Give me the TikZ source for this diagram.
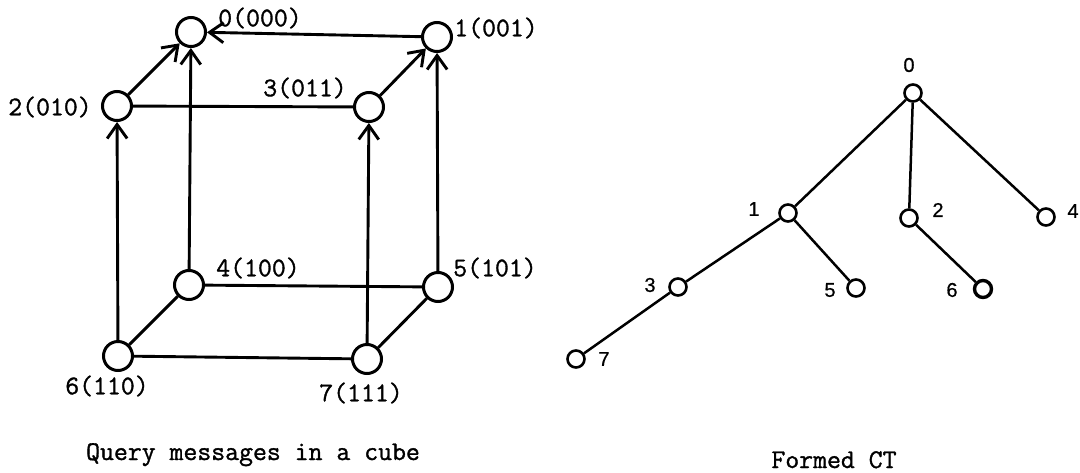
\documentclass[tikz,border=0pt]{standalone}
\usepackage{fontspec}
\newfontfamily\treefont{Liberation Sans}[FakeBold=0.6]
\newfontfamily\typew{Latin Modern Mono}[FakeBold=1.2]
\usetikzlibrary{arrows.meta}
\begin{document}
\begin{tikzpicture}[x=1pt,y=-1pt,
  cnode/.style={circle,draw,line width=3pt,minimum size=29pt,inner sep=0pt},
  tnode/.style={circle,draw,line width=2.6pt,minimum size=17pt,inner sep=0pt},
  cedge/.style={line width=2.9pt},
  carrow/.style={cedge,-{Straight Barb[length=14pt,width=20pt,line width=2.9pt]}},
  tedge/.style={line width=2.5pt},
  clabel/.style={font=\fontsize{27}{30}\selectfont\typew,inner sep=0pt},
  tlabel/.style={font=\fontsize{20}{22}\selectfont\treefont,inner sep=0pt},
  capt/.style={font=\fontsize{27}{30}\selectfont\typew,inner sep=0pt,anchor=base}]
\useasboundingbox (0,0) rectangle (1080,472);
% cube nodes
\node[cnode] (c0) at (191,32) {};
\node[cnode] (c1) at (437,37) {};
\node[cnode] (c2) at (117,106) {};
\node[cnode] (c3) at (369,107) {};
\node[cnode] (c4) at (189,285) {};
\node[cnode] (c5) at (438,287) {};
\node[cnode] (c6) at (118,356) {};
\node[cnode] (c7) at (367,359) {};
% cube labels
\node[clabel] (l0) at (260,18) {0(000)};
\node[clabel] (l1) at (496,28) {1(001)};
\node[clabel] (l2) at (50,107) {2(010)};
\node[clabel] (l3) at (305,88) {3(011)};
\node[clabel] (l4) at (258,268) {4(100)};
\node[clabel] (l5) at (495,268) {5(101)};
\node[clabel] (l6) at (107,386) {6(110)};
\node[clabel] (l7) at (361,393) {7(111)};
% cube edges
\draw[carrow] (c1) -- (c0);
\draw[carrow] (c2) -- (c0);
\draw[carrow] (c4) -- (c0);
\draw[carrow] (c3) -- (c1);
\draw[carrow] (c5) -- (c1);
\draw[carrow] (c6) -- (c2);
\draw[carrow] (c7) -- (c3);
\draw[cedge] (c2) -- (c3);
\draw[cedge] (c4) -- (c5);
\draw[cedge] (c4) -- (c6);
\draw[cedge] (c5) -- (c7);
\draw[cedge] (c6) -- (c7);
% tree nodes
\node[tnode] (t0) at (913,93) {};
\node[tnode] (t1) at (788,213) {};
\node[tnode] (t2) at (909,218) {};
\node[tnode] (t4) at (1046,217) {};
\node[tnode] (t3) at (678,287) {};
\node[tnode] (t5) at (856,288) {};
\node[tnode,line width=3.4pt] (t6) at (983,289) {};
\node[tnode] (t7) at (576,359) {};
% tree labels
\node[tlabel] (m0) at (909,65) {0};
\node[tlabel] (m1) at (754,209) {1};
\node[tlabel] (m2) at (938,210) {2};
\node[tlabel] (m4) at (1073,211) {4};
\node[tlabel] (m3) at (650,285) {3};
\node[tlabel] (m5) at (830,290) {5};
\node[tlabel] (m6) at (952,290) {6};
\node[tlabel] (m7) at (604,359) {7};
% tree edges
\draw[tedge] (t0) -- (t1);
\draw[tedge] (t0) -- (t2);
\draw[tedge] (t0) -- (t4);
\draw[tedge] (t1) -- (t3);
\draw[tedge] (t1) -- (t5);
\draw[tedge] (t2) -- (t6);
\draw[tedge] (t3) -- (t7);
% captions
\node[capt] (cap1) at (253,460) {Query messages in a cube};
\node[capt] (cap2) at (834,468) {Formed CT};
\end{tikzpicture}
\end{document}
